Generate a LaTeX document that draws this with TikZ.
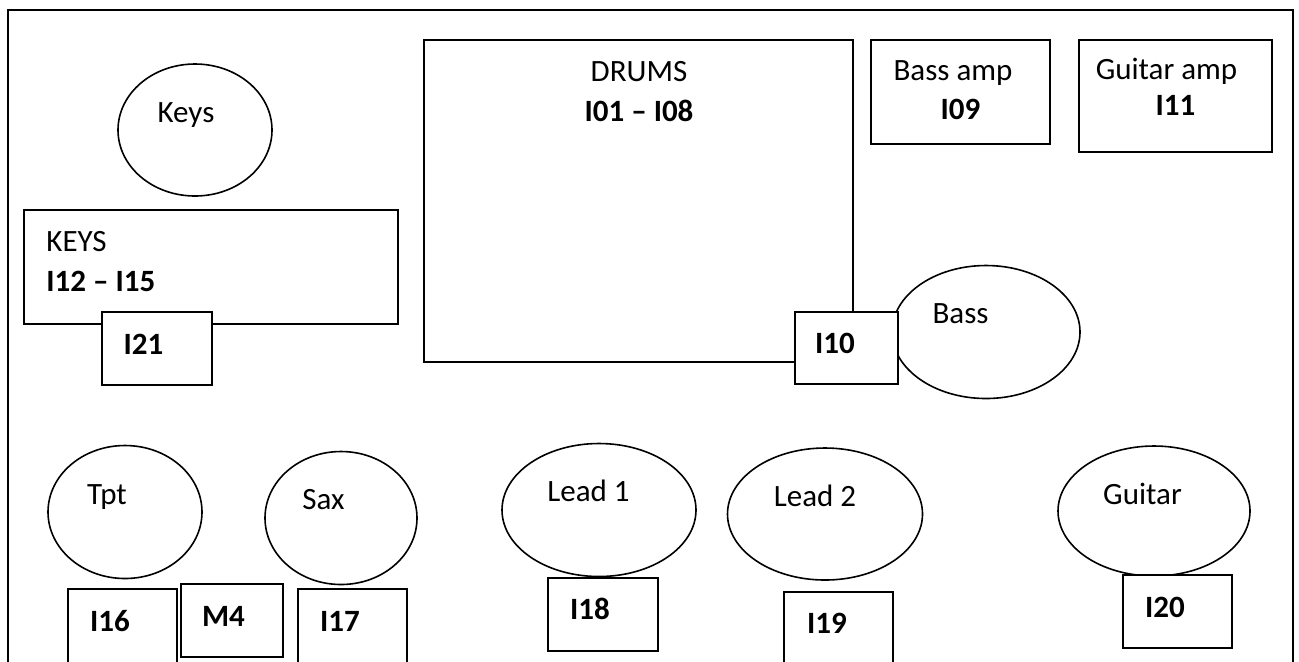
\documentclass[tikz,border=0pt]{standalone}
\usepackage{fontspec}
\setmainfont{Carlito}
\usetikzlibrary{shapes.geometric}

\begin{document}
\begin{tikzpicture}[x=0.5pt, y=-0.5pt,
	seat/.style={ellipse, draw=black, line width=0.8pt, inner sep=0pt},
	box/.style={rectangle, draw=black, line width=1pt, fill=white, inner sep=0pt},
	txt/.style={draw=none, anchor=base, inner sep=0pt, font=\fontsize{15.5}{18}\selectfont},
	ch/.style={txt, font=\fontsize{15.5}{18}\selectfont\bfseries}]
				\clip (0,0) rectangle (1299,661);
				\draw[line width=1pt] (8,700) -- (8,10) -- (1293,10) -- (1293,700);
				
				% players
				\node[seat, minimum width=77pt, minimum height=66pt] (keys) at (195,130){};
				\node[seat, minimum width=94pt, minimum height=66.5pt] (bass) at (986,332){};
				\node[seat, minimum width=77pt, minimum height=66.5pt] (tpt) at (125,512){};
				\node[seat, minimum width=76pt, minimum height=66.5pt] (sax) at (341,518){};
				\node[seat, minimum width=97pt, minimum height=66.5pt] (lead1) at (599,510){};
				\node[seat, minimum width=97.5pt, minimum height=66pt] (lead2) at (825,514){};
				\node[seat, minimum width=96pt, minimum height=65pt] (guitar) at (1154,511){};
				
				% boxes
				\node[box, minimum width=187pt, minimum height=57pt] (keysbox) at (211,267){};
				\node[box, minimum width=55pt, minimum height=36.5pt] (i21) at (157,348.5){};
				\node[box, minimum width=214.5pt, minimum height=161pt] (drums) at (638.5,201){};
				\node[box, minimum width=51.5pt, minimum height=36pt] (i10) at (846.5,348){};
				\node[box, minimum width=89.5pt, minimum height=52pt] (bassamp) at (960.5,92){};
				\node[box, minimum width=96.5pt, minimum height=56pt] (guitaramp) at (1175.5,96){};
				\node[box, minimum width=54.5pt, minimum height=40pt] (i16) at (122.5,629){};
				\node[box, minimum width=51pt, minimum height=36.5pt] (m4) at (232,620.5){};
				\node[box, minimum width=54.5pt, minimum height=40pt] (i17) at (352.5,629){};
				\node[box, minimum width=55pt, minimum height=36.5pt] (i18) at (603,614.5){};
				\node[box, minimum width=54.5pt, minimum height=40pt] (i19) at (838.5,632){};
				\node[box, minimum width=54.5pt, minimum height=36.5pt] (i20) at (1177.5,611.5){};
				
				% texts
				\node[txt] (tkeys) at (186,122){Keys};
				\node[txt, anchor=base west] (tkeysbox) at (46,251){KEYS};
				\node[ch, anchor=base west] (tkeysch) at (46,291){I12 -- I15};
				\node[ch] (ti21) at (143.5,354){I21};
				\node[txt] (tdrums) at (639,81){DRUMS};
				\node[ch] (tdrumsch) at (639,121){I01 -- I08};
				\node[ch] (ti10) at (835,353){I10};
				\node[txt] (tbassamp) at (953,80){Bass amp};
				\node[ch] (ti09) at (960.5,119){I09};
				\node[txt] (tguitaramp) at (1166.5,79){Guitar amp};
				\node[ch] (ti11) at (1175.5,115){I11};
				\node[txt] (tbass) at (960.5,323){Bass};
				\node[txt] (ttpt) at (107,504){Tpt};
				\node[txt] (tsax) at (323.5,509){Sax};
				\node[txt] (tlead1) at (588.5,501){Lead 1};
				\node[txt] (tlead2) at (815,506){Lead 2};
				\node[txt] (tguitar) at (1142.5,504){Guitar};
				\node[ch] (ti16) at (110,631){I16};
				\node[ch] (tm4) at (223.5,626){M4};
				\node[ch] (ti17) at (340,631){I17};
				\node[ch] (ti18) at (590,619){I18};
				\node[ch] (ti19) at (827,633){I19};
				\node[ch] (ti20) at (1165,617){I20};
\end{tikzpicture}
\end{document}
